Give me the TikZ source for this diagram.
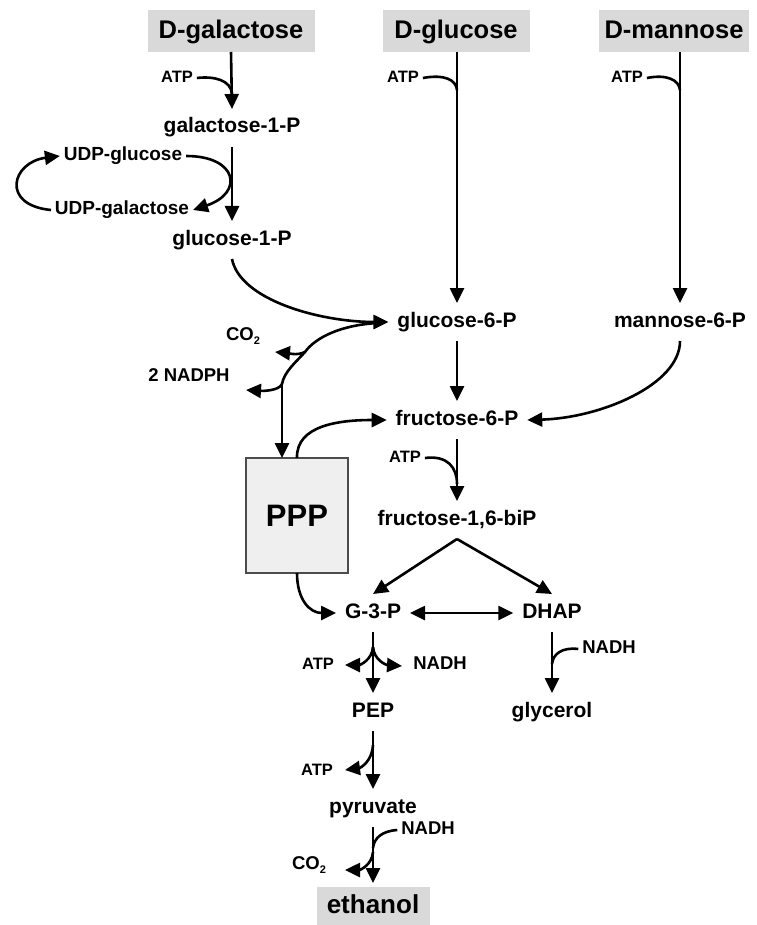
\documentclass[tikz,border=0pt]{standalone}
\usepackage{fontspec}
\setmainfont{Liberation Sans}
\usetikzlibrary{arrows.meta,calc}
\newcommand\myfs[1]{\fontsize{#1}{#1}\selectfont}
\definecolor{boxgray}{HTML}{D9D9D9}
\definecolor{pppgray}{HTML}{EFEFEF}
\begin{document}
\begin{tikzpicture}[x=1pt,y=-1pt,
  ln/.style={line width=2.6pt},
  arr/.style={line width=2.6pt,-{Triangle[length=15pt,width=14pt]}},
  darr/.style={line width=2.6pt,{Triangle[length=15pt,width=14pt]}-{Triangle[length=15pt,width=14pt]}},
  src/.style={fill=boxgray,inner sep=0pt,outer sep=0pt,text height=19pt,text depth=3pt,font=\myfs{25.5}\bfseries},
  lab/.style={inner sep=0pt,outer sep=9pt,text height=15pt,text depth=5pt,font=\myfs{21}\bfseries},
  sml/.style={inner sep=0pt,outer sep=4pt,text height=13.5pt,text depth=4pt,font=\myfs{18.5}\bfseries},
  atp/.style={inner sep=0pt,outer sep=4pt,text height=12pt,text depth=3.5pt,font=\myfs{16.5}\bfseries}]
\useasboundingbox (0,0) rectangle (756,925);
% source boxes
\node[src,minimum width=167pt,minimum height=42pt] (gal) at (231,31) {D-galactose};
\node[src,minimum width=147pt,minimum height=42pt] (glc) at (456,31) {D-glucose};
\node[src,minimum width=150pt,minimum height=42pt] (man) at (674,31) {D-mannose};
% labels
\node[atp] (atp1) at (177,78) {ATP};
\node[atp] (atp2) at (403,78) {ATP};
\node[atp] (atp3) at (627,78) {ATP};
\node[lab] (gal1p) at (232,128) {galactose-1-P};
\node[sml,font=\myfs{19}\bfseries] (udpglc) at (123,156) {UDP-glucose};
\node[sml,font=\myfs{19}\bfseries] (udpgal) at (122,210) {UDP-galactose};
\node[lab] (glc1p) at (232,240) {glucose-1-P};
\node[lab] (g6p) at (457,322) {glucose-6-P};
\node[lab] (m6p) at (680,322) {mannose-6-P};
\node[sml] (co2a) at (243,336) {CO{\myfs{11}\raisebox{-4pt}{2}}};
\node[sml] (nadph) at (189,377) {2 NADPH};
\node[draw=black!70,fill=pppgray,line width=1.3pt,minimum width=102pt,minimum height=115pt,inner sep=0pt,outer sep=0pt,font=\myfs{31}\bfseries] (ppp) at (297,515.5) {PPP};
\node[lab] (f6p) at (457,420) {fructose-6-P};
\node[atp] (atpf) at (405,458) {ATP};
\node[lab] (fbp) at (457,520) {fructose-1,6-biP};
\node[lab] (g3p) at (373,613) {G-3-P};
\node[lab] (dhap) at (552,613) {DHAP};
\node[atp] (atpg) at (318,665) {ATP};
\node[sml] (nadhg) at (440,665) {NADH};
\node[sml] (nadhd) at (609,649) {NADH};
\node[lab] (glyc) at (552,712) {glycerol};
\node[lab] (pep) at (373,712) {PEP};
\node[atp] (atpp) at (317,771) {ATP};
\node[lab] (pyr) at (373,808) {pyruvate};
\node[sml] (nadhp) at (428,830) {NADH};
\node[sml] (co2p) at (309,865) {CO{\myfs{11}\raisebox{-4pt}{2}}};
\node[src,minimum width=113pt,minimum height=38pt,text height=19pt,text depth=5pt,font=\myfs{26}\bfseries] (eth) at (373,906) {ethanol};
% junctions and free ends
\coordinate (j1) at (232,94);
\coordinate (j2) at (457,90);
\coordinate (j3) at (680,90);
\coordinate (j4) at (457,484);
\coordinate (pj) at (378,323);
\coordinate (c1) at (305,352);
\coordinate (c2) at (282,384);
\coordinate (t1) at (275,352);
\coordinate (t2) at (246,390);
\coordinate (jg) at (373,647);
\coordinate (t3) at (345,665);
\coordinate (t4) at (402,666);
\coordinate (jd) at (552,664);
\coordinate (jp) at (373,745);
\coordinate (t5) at (345,770);
\coordinate (jn) at (373,848);
\coordinate (jc) at (373,852);
\coordinate (t6) at (345,870);
% main arrows
\draw[arr] (gal.south) -- (gal1p.north);
\draw[arr] (gal1p.south) -- (glc1p.north);
\draw[arr] (glc.south -| g6p.north) -- (g6p.north);
\draw[arr] (man.south -| m6p.north) -- (m6p.north);
\draw[arr] (g6p.south) -- (f6p.north);
\draw[arr] (f6p.south) -- (fbp.north);
\draw[arr] (fbp.south) -- (g3p.north);
\draw[arr] (fbp.south) -- (dhap.north);
\draw[darr] (g3p.east) -- (dhap.west);
\draw[arr] (g3p.south) -- (pep.north);
\draw[arr] (dhap.south) -- (glyc.north);
\draw[arr] (pep.south) -- (pyr.north);
\draw[arr,shorten >=4pt] (pyr.south) -- (eth.north);
% ATP inputs
\draw[ln] (atp1.east) .. controls (214,76) and (231,80) .. (j1);
\draw[ln] (atp2.east) .. controls (445,74) and (456,80) .. (j2);
\draw[ln] (atp3.east) .. controls (667,74) and (679,80) .. (j3);
\draw[ln] (atpf.east) .. controls (448,455) and (457,468) .. (j4);
% UDP cycle
\draw[arr] (udpglc.east) .. controls (238,156) and (244,193) .. (udpgal.east);
\draw[arr] (udpgal.west) .. controls (0,205) and (12,162) .. (udpglc.west);
% glucose-1-P to glucose-6-P
\draw[arr] (glc1p.south) .. controls (240,300) and (320,322) .. (g6p.west);
% oxidative branch to PPP
\draw[ln] (pj) .. controls (340,325) and (315,338) .. (c1)
          .. controls (296,362) and (284,372) .. (c2);
\draw[arr] (c2) -- (c2 |- ppp.north);
\draw[arr] (c1) .. controls (297,356) and (287,353) .. (t1);
\draw[arr] (c2) .. controls (279,391) and (262,391) .. (t2);
% PPP outputs
\draw[arr] (ppp.north) .. controls (296,425) and (340,420) .. (f6p.west);
\draw[arr] (ppp.south) .. controls (297,600) and (310,613) .. (g3p.west);
% mannose-6-P to fructose-6-P
\draw[arr] (m6p.south) .. controls (680,385) and (600,418) .. (f6p.east);
% G-3-P branches
\draw[arr] (jg) .. controls (372,660) and (360,665) .. (t3);
\draw[arr] (jg) .. controls (374,660) and (386,665) .. (t4);
% DHAP NADH
\draw[ln] (nadhd.west) .. controls (562,647) and (553,654) .. (jd);
% PEP ATP
\draw[arr] (jp) .. controls (372,762) and (360,768) .. (t5);
% pyruvate
\draw[ln] (nadhp.west) .. controls (382,831) and (374,838) .. (jn);
\draw[arr] (jc) .. controls (372,865) and (360,870) .. (t6);
\end{tikzpicture}
\end{document}
